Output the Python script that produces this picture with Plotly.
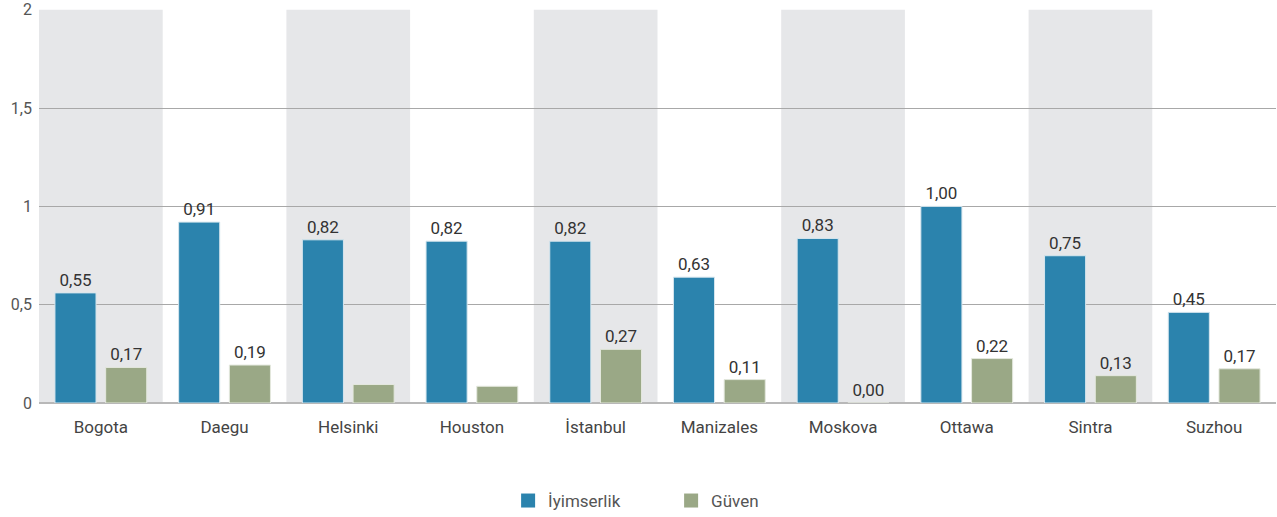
import plotly.graph_objects as go

categories = ["Bogota", "Daegu", "Helsinki", "Houston", "İstanbul",
              "Manizales", "Moskova", "Ottawa", "Sintra", "Suzhou"]
iyimserlik = [0.56, 0.92, 0.83, 0.823, 0.823, 0.64, 0.837, 1.00, 0.749, 0.461]
iyimserlik_labels = ["0,55", "0,91", "0,82", "0,82", "0,82", "0,63", "0,83", "1,00", "0,75", "0,45"]
guven = [0.181, 0.193, 0.094, 0.085, 0.273, 0.119, 0.0, 0.226, 0.139, 0.174]
guven_labels = ["0,17", "0,19", "", "", "0,27", "0,11", "0,00", "0,22", "0,13", "0,17"]
series_names = ["İyimserlik", "Güven"]
y_ticks = [0, 0.5, 1, 1.5, 2]
y_tick_labels = ["0", "0,5", "1", "1,5", "2"]

BLUE = "#2b83ad"
GREEN = "#9aa886"
FONT = "Roboto"

fig = go.Figure()
for name, vals, labels, color, edge in [
    (series_names[0], iyimserlik, iyimserlik_labels, BLUE, "#d6e6ee"),
    (series_names[1], guven, guven_labels, GREEN, "#e4e8de"),
]:
    fig.add_trace(go.Bar(
        name=name, x=categories, y=vals,
        text=labels, textposition="outside",
        textfont=dict(family=FONT, size=17, color="#333333"),
        marker=dict(color=color, line=dict(color=edge, width=1)),
        cliponaxis=False, showlegend=False,
    ))
    # legend entry with a larger square swatch
    fig.add_trace(go.Scatter(
        name=name, x=[None], y=[None], mode="markers",
        marker=dict(symbol="square", size=14, color=color),
        showlegend=True,
    ))

shapes = []
for i, c in enumerate(categories):
    if i % 2 == 0:
        shapes.append(dict(type="rect", xref="x", yref="y",
                           x0=i - 0.5, x1=i + 0.5, y0=0, y1=y_ticks[-1],
                           fillcolor="#e6e7e9", line=dict(width=0), layer="below"))

fig.update_layout(
    width=1277, height=517,
    margin=dict(l=39, r=1, t=9, b=114, autoexpand=False),
    paper_bgcolor="white", plot_bgcolor="white",
    barmode="group", bargap=0.18, bargroupgap=0.19,
    shapes=shapes,
    font=dict(family=FONT, size=16, color="#555555"),
    showlegend=True,
    legend=dict(orientation="h", x=0.511, xanchor="center",
                yref="container", y=0.031, yanchor="middle",
                font=dict(family=FONT, size=17, color="#555555"),
                entrywidth=118, entrywidthmode="pixels", itemsizing="trace"),
    xaxis=dict(showgrid=False, tickfont=dict(family=FONT, size=17, color="#444444"),
               ticks="", showline=False, range=[-0.5, len(categories) - 0.5],
               ticklabelstandoff=12),
    yaxis=dict(range=[0, 2.004], tickvals=y_ticks, ticktext=y_tick_labels,
               showgrid=True, gridcolor="#a8a8a8", gridwidth=1,
               zeroline=True, zerolinecolor="#b8b8b8", zerolinewidth=2,
               tickfont=dict(family=FONT, size=16, color="#555555"),
               ticks="", showline=False, ticklabelstandoff=6),
)

fig.write_html("out.html")
